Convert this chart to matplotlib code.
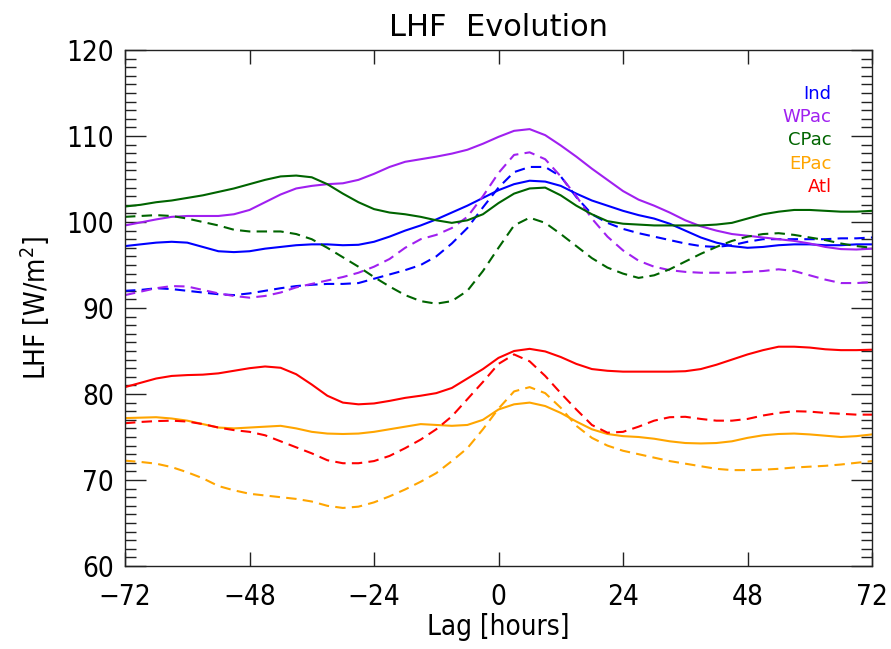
import matplotlib
matplotlib.use("Agg")
import matplotlib.pyplot as plt
from matplotlib.ticker import MultipleLocator
import numpy as np

plt.rcParams['font.family'] = ['DejaVu Sans']
plt.rcParams['font.stretch'] = 'condensed'

# lag axis, every 3 hours
lag = np.arange(-72, 73, 3)

# composite LHF (W/m^2); solid and dashed curve for each basin
ind_solid = [97.2, 97.4, 97.6, 97.7, 97.6, 97.1, 96.6, 96.5, 96.6, 96.9, 97.1, 97.3, 97.4,
             97.4, 97.3, 97.35, 97.7, 98.3, 99.0, 99.6, 100.3, 101.1, 101.9, 102.8, 103.7,
             104.4, 104.8, 104.7, 104.2, 103.3, 102.5, 101.9, 101.3, 100.8, 100.4, 99.8,
             99.0, 98.2, 97.6, 97.2, 97.0, 97.1, 97.3, 97.4, 97.4, 97.3, 97.3, 97.4, 97.4]
ind_dash = [92.0, 92.1, 92.3, 92.2, 92.0, 91.8, 91.6, 91.5, 91.7, 92.0, 92.3, 92.55, 92.7,
            92.8, 92.8, 92.9, 93.4, 93.9, 94.4, 95.0, 96.0, 97.5, 99.3, 101.7, 104.0,
            105.8, 106.4, 106.4, 105.3, 102.9, 100.9, 99.9, 99.2, 98.7, 98.3, 97.9,
            97.5, 97.2, 97.1, 97.3, 97.7, 98.0, 98.0, 98.0, 98.0, 98.0, 98.1, 98.1, 98.2]

wpac_solid = [99.6, 99.95, 100.3, 100.6, 100.7, 100.7, 100.7, 100.9, 101.4, 102.3, 103.2,
              103.9, 104.2, 104.4, 104.5, 104.9, 105.6, 106.4, 107.0, 107.3, 107.6, 107.95,
              108.4, 109.1, 109.9, 110.6, 110.8, 110.1, 108.9, 107.6, 106.2, 104.9, 103.6,
              102.6, 101.9, 101.1, 100.2, 99.5, 99.0, 98.6, 98.4, 98.2, 98.0, 97.8, 97.5,
              97.1, 96.85, 96.8, 96.9]
wpac_dash = [91.5, 91.9, 92.3, 92.55, 92.5, 92.1, 91.7, 91.4, 91.2, 91.4, 91.8, 92.4, 92.8,
             93.2, 93.6, 94.1, 94.8, 95.7, 97.0, 98.0, 98.5, 99.3, 100.6, 103.0, 105.7,
             107.8, 108.1, 107.3, 105.3, 103.0, 100.4, 98.3, 96.7, 95.5, 94.8, 94.4,
             94.2, 94.1, 94.1, 94.1, 94.2, 94.3, 94.5, 94.3, 93.8, 93.3, 92.9, 92.9, 93.0]

cpac_solid = [101.8, 102.0, 102.3, 102.5, 102.8, 103.1, 103.5, 103.9, 104.4, 104.9, 105.3,
              105.4, 105.2, 104.4, 103.3, 102.3, 101.5, 101.1, 100.9, 100.6, 100.2, 99.9,
              100.2, 100.9, 102.2, 103.3, 103.9, 104.0, 103.1, 101.9, 100.9, 100.1, 99.8,
              99.7, 99.6, 99.6, 99.6, 99.6, 99.7, 99.9, 100.4, 100.9, 101.2, 101.4, 101.4,
              101.3, 101.2, 101.2, 101.3]
cpac_dash = [100.6, 100.7, 100.8, 100.7, 100.4, 100.0, 99.6, 99.1, 98.9, 98.9, 98.9, 98.6,
             98.0, 97.0, 95.9, 94.8, 93.6, 92.5, 91.5, 90.8, 90.5, 90.8, 92.0, 94.3, 97.0,
             99.6, 100.5, 99.9, 98.6, 97.2, 95.8, 94.7, 94.0, 93.5, 93.8, 94.5, 95.4, 96.3,
             97.1, 97.8, 98.3, 98.6, 98.7, 98.5, 98.2, 97.9, 97.5, 97.2, 97.0]

epac_solid = [77.2, 77.25, 77.3, 77.15, 76.9, 76.5, 76.1, 76.0, 76.1, 76.2, 76.3, 76.0, 75.6,
              75.4, 75.35, 75.4, 75.6, 75.9, 76.2, 76.5, 76.4, 76.3, 76.4, 77.0, 78.2, 78.8,
              79.0, 78.6, 77.8, 76.8, 75.9, 75.35, 75.1, 75.0, 74.8, 74.5, 74.3, 74.25, 74.3,
              74.5, 74.9, 75.2, 75.35, 75.4, 75.3, 75.15, 75.0, 75.1, 75.3]
epac_dash = [72.25, 72.1, 71.9, 71.5, 70.9, 70.2, 69.3, 68.8, 68.4, 68.2, 68.0, 67.8, 67.5,
             67.0, 66.75, 66.9, 67.4, 68.1, 68.9, 69.8, 70.8, 72.2, 73.7, 75.9, 78.3, 80.3,
             80.8, 80.1, 78.4, 76.3, 74.9, 74.0, 73.4, 73.0, 72.6, 72.2, 71.9, 71.6, 71.3,
             71.15, 71.15, 71.2, 71.3, 71.45, 71.55, 71.65, 71.8, 72.0, 72.2]

atl_solid = [80.8, 81.3, 81.8, 82.1, 82.2, 82.25, 82.4, 82.7, 83.0, 83.2, 83.05, 82.3, 81.1,
             79.8, 79.0, 78.8, 78.9, 79.2, 79.55, 79.8, 80.1, 80.7, 81.8, 82.9, 84.2, 85.0,
             85.25, 84.95, 84.3, 83.5, 82.9, 82.7, 82.6, 82.6, 82.6, 82.6, 82.65, 82.9, 83.4,
             84.0, 84.6, 85.1, 85.5, 85.5, 85.4, 85.2, 85.1, 85.1, 85.15]
atl_dash = [76.6, 76.75, 76.85, 76.9, 76.8, 76.5, 76.1, 75.8, 75.6, 75.2, 74.5, 73.8, 73.1,
            72.3, 71.95, 71.95, 72.2, 72.8, 73.7, 74.7, 75.9, 77.4, 79.4, 81.4, 83.5, 84.6,
            83.8, 82.1, 80.1, 78.2, 76.4, 75.5, 75.6, 76.2, 76.9, 77.3, 77.35, 77.1, 76.9,
            76.9, 77.1, 77.5, 77.8, 78.0, 77.95, 77.8, 77.7, 77.6, 77.6]

regions = ['Ind', 'WPac', 'CPac', 'EPac', 'Atl']
colors = ['#0000ff', '#a020f0', '#006400', '#ffa500', '#ff0000']
solid = [ind_solid, wpac_solid, cpac_solid, epac_solid, atl_solid]
dashed = [ind_dash, wpac_dash, cpac_dash, epac_dash, atl_dash]
xticks = [-72, -48, -24, 0, 24, 48, 72]

fig = plt.figure(figsize=(8.91, 6.49), dpi=100)
ax = fig.add_axes([125/891, 1 - 566/649, 747/891, 516/649])

for name, c, s, d in zip(regions, colors, solid, dashed):
    ax.plot(lag, s, color=c, lw=1.5)
    ax.plot(lag, d, color=c, lw=1.5, dashes=(5, 3))

ax.set_xlim(-72, 72)
ax.set_ylim(60, 120)
ax.set_xticks(xticks)
ax.set_xticklabels([f"\u2212{abs(v)}" if v < 0 else str(v) for v in xticks])
ax.yaxis.set_major_locator(MultipleLocator(10))
ax.yaxis.set_minor_locator(MultipleLocator(1))
ax.tick_params(which='both', direction='in', top=True, right=True, width=1, color='#222222')
ax.tick_params(axis='x', which='major', length=10, pad=12, labelsize=20)
ax.tick_params(axis='y', which='major', length=15, pad=8, labelsize=20)
ax.tick_params(axis='y', which='minor', length=8)
for sp in ax.spines.values():
    sp.set_color('#222222')
    sp.set_linewidth(1)

ax.set_xlabel('Lag [hours]', fontsize=20, labelpad=2)
ax.set_ylabel('LHF [W/m$^2$]', fontsize=20, labelpad=10)
ax.set_title('LHF  Evolution', fontsize=22, pad=10, fontstretch='normal')

# basin labels, right aligned inside the top-right corner
for i, (name, c) in enumerate(zip(regions, colors)):
    ax.text(0.946, 0.915 - i * 0.045, name, color=c, fontsize=13, fontstretch='normal',
            ha='right', va='center', transform=ax.transAxes)

fig.savefig('out.png', dpi=100)
